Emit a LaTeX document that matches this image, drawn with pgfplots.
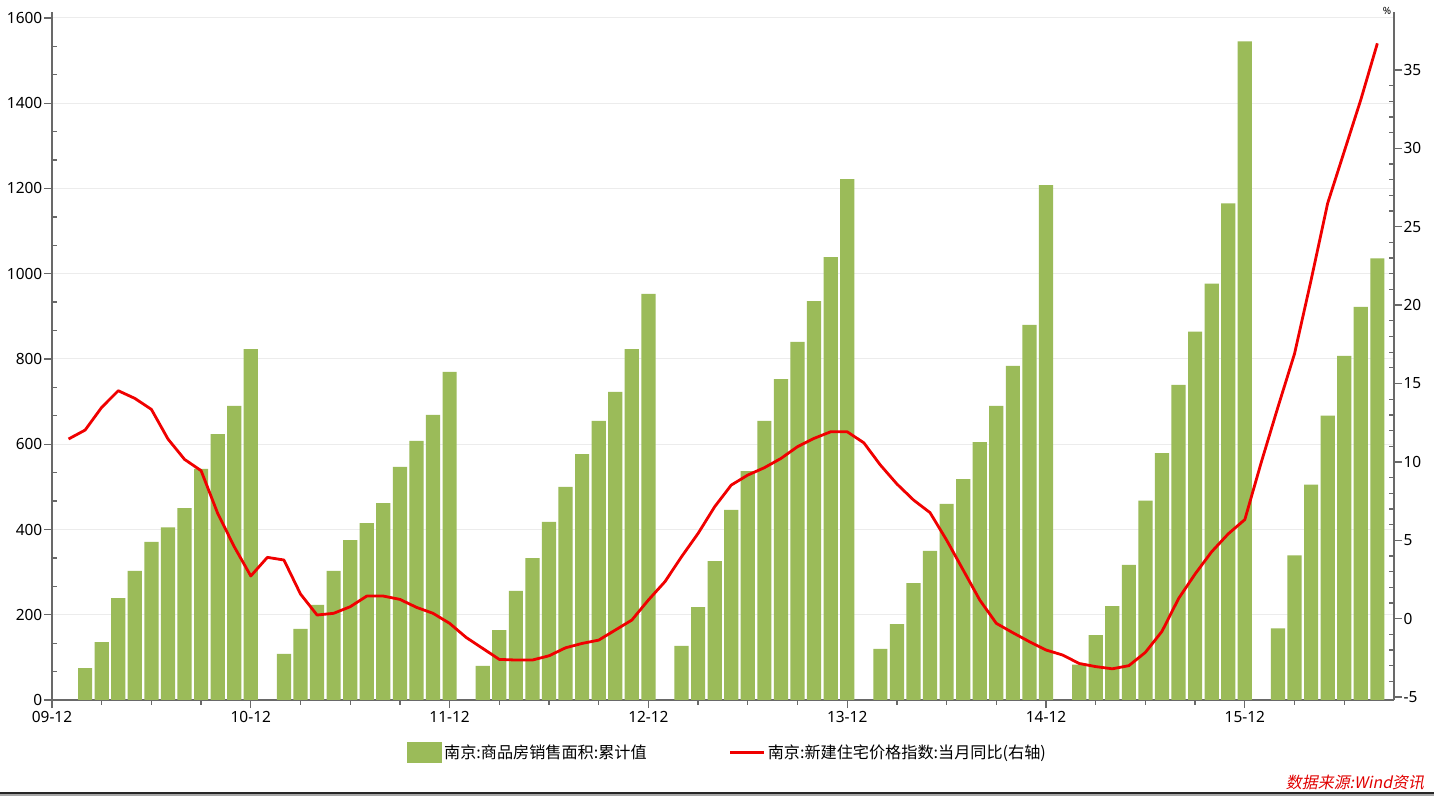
\documentclass[border=0pt]{standalone}
\usepackage{pgfplots}
\pgfplotsset{compat=1.18}
\usepackage{pgfplotstable}
\usepackage{fontspec}
\setmainfont{Noto Sans}
\newfontfamily\cjk{Noto Sans CJK SC}
\newfontfamily\cjksl[FakeSlant=0.2]{Noto Sans CJK SC}
\definecolor{barg}{RGB}{155,187,89}
\definecolor{lred}{RGB}{240,0,0}
\definecolor{axgray}{RGB}{105,105,105}
\definecolor{gridc}{RGB}{236,236,236}
\definecolor{srcred}{RGB}{225,0,0}

\pgfplotstableread{
m v
2 75
3 136
4 239
5 303
6 371
7 405
8 450
9 542
10 624
11 690
12 823
14 108
15 167
16 223
17 303
18 375
19 415
20 462
21 547
22 608
23 669
24 770
26 80
27 164
28 256
29 333
30 418
31 500
32 577
33 655
34 723
35 823
36 953
38 127
39 218
40 326
41 446
42 537
43 655
44 753
45 840
46 936
47 1039
48 1222
50 120
51 178
52 274
53 350
54 460
55 518
56 605
57 690
58 784
59 880
60 1208
62 83
63 152
64 220
65 317
66 468
67 579
68 739
69 864
70 977
71 1165
72 1545
74 168
75 339
76 505
77 667
78 807
79 922
80 1036
}\bars

\pgfplotstableread{
m v
1 11.46
2 12.03
3 13.48
4 14.54
5 14.05
6 13.35
7 11.46
8 10.16
9 9.44
10 6.72
11 4.59
12 2.72
13 3.91
14 3.74
15 1.57
16 0.23
17 0.34
18 0.76
19 1.44
20 1.44
21 1.23
22 0.72
23 0.34
24 -0.30
25 -1.20
26 -1.90
27 -2.60
28 -2.64
29 -2.64
30 -2.37
31 -1.86
32 -1.58
33 -1.37
34 -0.73
35 -0.09
36 1.19
37 2.36
38 3.95
39 5.44
40 7.14
41 8.52
42 9.16
43 9.63
44 10.22
45 10.97
46 11.50
47 11.92
48 11.92
49 11.22
50 9.80
51 8.59
52 7.57
53 6.76
54 5.01
55 3.10
56 1.19
57 -0.30
58 -0.90
59 -1.47
60 -2.00
61 -2.32
62 -2.86
63 -3.06
64 -3.20
65 -3.00
66 -2.15
67 -0.81
68 1.28
69 2.85
70 4.27
71 5.41
72 6.32
73 10.0
74 13.5
75 16.9
76 21.6
77 26.5
78 29.8
79 33.1
80 36.7
}\linedata

\begin{document}
\begin{tikzpicture}
\useasboundingbox (0bp,0bp) rectangle (1434bp,796bp);
\fill[white] (0bp,0bp) rectangle (1434bp,796bp);
\begin{axis}[
  at={(52bp,96bp)}, anchor=south west,
  scale only axis, width=1342bp, height=688bp,
  xmin=0, xmax=81, ymin=0, ymax=1614,
  axis x line*=bottom, axis y line*=left,
  axis line style={axgray, line width=1.8bp, -},
  ybar, bar width=14.2bp, bar shift=0pt,
  xtick={0,12,24,36,48,60,72},
  xticklabels={09-12,10-12,11-12,12-12,13-12,14-12,15-12},
  minor xtick={3,6,9,15,18,21,27,30,33,39,42,45,51,54,57,63,66,69,75,78},
  ytick={0,200,...,1600},
  minor y tick num=2,
  ymajorgrids, major grid style={gridc, line width=1bp},
  tick align=outside,
  major tick length=8bp, minor tick length=5bp,
  tick style={axgray, line width=1.3bp},
  minor y tick style={xshift=5bp},
  /pgf/number format/assume math mode=true,
  /pgf/number format/1000 sep={},
  ticklabel style={font=\fontsize{15.5}{17}\selectfont, text=black},
  yticklabel style={inner sep=1.5bp},
  legend columns=2,
  legend style={draw=none, fill=none, inner sep=0pt,
    at={(0.2645,-0.0756)}, anchor=west,
    font=\fontsize{16.2}{19}\selectfont\cjk,
    /tikz/every even column/.append style={column sep=80bp}},
]
\addplot[fill=barg, draw=none,
  legend image code/.code={\fill[barg] (0bp,-10.5bp) rectangle (35bp,10.5bp);}]
  table[x=m, y=v] {\bars};
\addlegendentry{南京:商品房销售面积:累计值}
\addlegendimage{legend image code/.code={\draw[lred, line width=3bp] (0bp,0bp) -- (34bp,0bp);}}
\addlegendentry{南京:新建住宅价格指数:当月同比(右轴)}
\end{axis}
\begin{axis}[
  at={(52bp,96bp)}, anchor=south west,
  scale only axis, width=1342bp, height=688bp,
  xmin=0, xmax=81, ymin=-5.19, ymax=38.70,
  axis x line=none, axis y line*=right,
  axis line style={axgray, line width=1.8bp, -},
  ytick={-5,0,...,35},
  minor y tick num=4,
  tick align=outside,
  major tick length=8bp, minor tick length=5bp,
  tick style={axgray, line width=1.3bp},
  minor y tick style={xshift=-5bp},
  /pgf/number format/assume math mode=true,
  ticklabel style={font=\fontsize{15.5}{17}\selectfont, text=black},
  yticklabel style={inner sep=1.5bp},
]
\addplot[lred, line width=2.8bp, line join=round] table[x=m, y=v] {\linedata};
\end{axis}
\node[font=\fontsize{10}{11}\selectfont\bfseries, inner sep=0pt] at (1387bp,785bp) {\%};
\node[font=\fontsize{16}{18}\selectfont\cjksl, text=srcred, inner sep=0pt] at (1355bp,13bp) {数据来源:Wind资讯};
\fill[black!85] (0bp,2.2bp) rectangle (1434bp,4.2bp);
\fill[black!35] (0bp,0bp) rectangle (1434bp,2.2bp);
\end{tikzpicture}
\end{document}
